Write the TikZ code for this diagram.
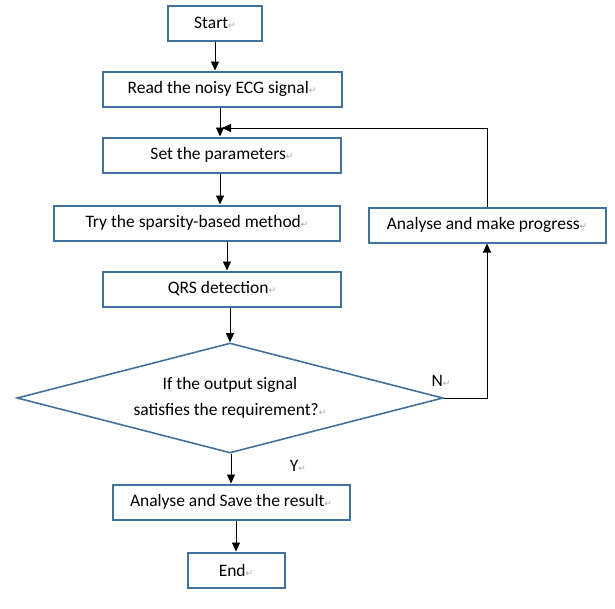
\documentclass[tikz,border=0pt]{standalone}
\usepackage{fontspec}
\setmainfont{Carlito}
\newfontfamily\retfont{DejaVu Sans}
\usetikzlibrary{shapes.geometric,arrows.meta}
\definecolor{boxblue}{RGB}{65,113,156}
\newcommand{\retmark}{{\retfont\fontsize{9}{9}\selectfont\textcolor{gray!70}{↵}}}

\begin{document}
\begin{tikzpicture}[x=1pt,y=-1pt,
  box/.style={draw=boxblue,line width=2pt,rectangle,minimum height=35pt,inner sep=0pt,font=\fontsize{17.5}{20}\selectfont},
  decision/.style={draw=boxblue,line width=1.6pt,diamond,aspect=3.87,minimum width=426pt,minimum height=110pt,inner sep=0pt,align=center,font=\fontsize{17.5}{26}\selectfont},
  lbl/.style={font=\fontsize{17.5}{20}\selectfont,inner sep=0pt},
  link/.style={-{Triangle[length=9pt,width=8pt]},line width=0.8pt}]
\useasboundingbox (0,0) rectangle (615,608);

% boxes
\node[box,minimum width=94pt] (start) at (215,23) {Start\retmark};
\node[box,minimum width=239pt] (read) at (222,89) {Read the noisy ECG signal\retmark};
\node[box,minimum width=238pt] (setp) at (222,155) {Set the parameters\retmark};
\node[box,minimum width=286pt] (try) at (197,223) {Try the sparsity-based method\retmark};
\node[box,minimum width=238pt] (qrs) at (222,289) {QRS detection\retmark};
\node[decision] (dec) at (230,398) {If the output signal\\satisfies the requirement?\retmark};
\node[box,minimum width=237pt] (save) at (231,502) {Analyse and Save the result\retmark};
\node[box,minimum width=97pt] (endn) at (236,570) {End\retmark};
\node[box,minimum width=237pt] (amp) at (487,225) {Analyse and make progress\retmark};

\node[lbl] (nlab) at (441,381) {N\retmark};
\node[lbl] (ylab) at (298,466) {Y\retmark};
\coordinate (back) at (222,128);

% connectors
\draw[link] (start.south) -- (start.south |- read.north);
\draw[link] ([xshift=-2pt]read.south) -- ([xshift=-2pt]setp.north);
\draw[link] ([xshift=-2pt]setp.south) -- ([xshift=-2pt]setp.south |- try.north);
\draw[link] ([xshift=5pt]qrs.north |- try.south) -- ([xshift=5pt]qrs.north);
\draw[link] (dec.north |- qrs.south) -- (dec.north);
\draw[link] ([xshift=1pt]dec.south) -- ([xshift=1pt]dec.south |- save.north);
\draw[link] (endn.north |- save.south) -- (endn.north);
\draw[link] (dec.east) -| (amp.south);
\draw[link] (amp.north) |- (back);
\end{tikzpicture}
\end{document}
